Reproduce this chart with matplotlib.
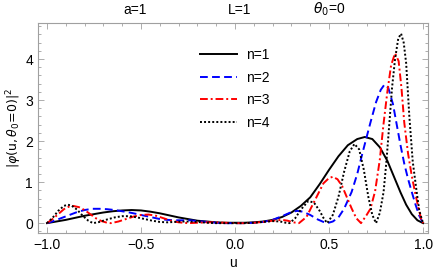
import matplotlib
matplotlib.use("Agg")
import matplotlib.pyplot as plt
from matplotlib.ticker import MultipleLocator

# values
n1_u = [-1.0, -0.95, -0.9, -0.85, -0.8, -0.75, -0.7, -0.65, -0.6, -0.55,
        -0.5, -0.45, -0.4, -0.35, -0.3, -0.25, -0.2, -0.15, -0.1, -0.05,
        0.0, 0.05, 0.1, 0.15, 0.2, 0.25, 0.3, 0.35, 0.4, 0.45,
        0.5, 0.55, 0.6, 0.65, 0.69, 0.73, 0.77, 0.81, 0.85, 0.88,
        0.91, 0.94, 0.97, 1.0]
n1_v = [0, 0.04, 0.08, 0.13, 0.18, 0.22, 0.26, 0.29, 0.31, 0.32,
        0.31, 0.28, 0.24, 0.19, 0.14, 0.1, 0.06, 0.04, 0.02, 0.01,
        0.01, 0.01, 0.02, 0.04, 0.08, 0.15, 0.26, 0.42, 0.63, 0.95,
        1.3, 1.63, 1.9, 2.05, 2.1, 2.05, 1.85, 1.52, 1.08, 0.75,
        0.45, 0.22, 0.07, 0]

n2_u = [-1.0, -0.96, -0.92, -0.88, -0.84, -0.8, -0.76, -0.72, -0.68, -0.64,
        -0.6, -0.55, -0.5, -0.45, -0.4, -0.36, -0.32, -0.28, -0.24, -0.2,
        -0.15, -0.1, -0.05, 0.0, 0.05, 0.1, 0.15, 0.2, 0.25, 0.3,
        0.33, 0.36, 0.4, 0.44, 0.47, 0.49, 0.52, 0.55, 0.58, 0.62,
        0.65, 0.68, 0.72, 0.75, 0.775, 0.795, 0.815, 0.84, 0.86, 0.88,
        0.9, 0.92, 0.94, 0.96, 0.98, 1.0]
n2_v = [0, 0.06, 0.13, 0.2, 0.27, 0.32, 0.35, 0.35, 0.34, 0.32,
        0.29, 0.25, 0.2, 0.15, 0.1, 0.08, 0.07, 0.07, 0.07, 0.05,
        0.03, 0.01, 0, 0, 0, 0.01, 0.03, 0.08, 0.17, 0.27,
        0.3, 0.28, 0.2, 0.09, 0.03, 0, 0.04, 0.14, 0.35, 0.76,
        1.2, 1.75, 2.45, 2.95, 3.25, 3.38, 3.3, 2.9, 2.4, 1.9,
        1.45, 1.08, 0.76, 0.45, 0.18, 0]

n3_u = [-1.0, -0.97, -0.94, -0.91, -0.88, -0.86, -0.83, -0.8, -0.77, -0.74,
        -0.71, -0.68, -0.66, -0.62, -0.58, -0.54, -0.5, -0.46, -0.42, -0.38,
        -0.34, -0.3, -0.25, -0.2, -0.15, -0.1, -0.05, 0.0, 0.05, 0.1,
        0.15, 0.2, 0.25, 0.28, 0.31, 0.34, 0.38, 0.425, 0.47, 0.5,
        0.52, 0.545, 0.57, 0.594, 0.62, 0.645, 0.67, 0.7, 0.72, 0.745,
        0.77, 0.789, 0.81, 0.83, 0.851, 0.87, 0.885, 0.9, 0.92, 0.94,
        0.957, 0.975, 0.99, 1.0]
n3_v = [0, 0.1, 0.22, 0.34, 0.41, 0.42, 0.39, 0.32, 0.22, 0.12,
        0.05, 0.01, 0, 0.04, 0.1, 0.16, 0.2, 0.21, 0.18, 0.12,
        0.06, 0.02, 0, 0.01, 0.02, 0.02, 0.01, 0, 0, 0.01,
        0.03, 0.06, 0.08, 0.06, 0.02, 0, 0.15, 0.56, 0.97, 1.1,
        1.13, 1.07, 0.9, 0.64, 0.36, 0.12, 0, 0.2, 0.35, 0.78,
        1.55, 2.39, 3.2, 3.85, 4.14, 3.95, 3.3, 2.45, 1.7, 1.15,
        0.76, 0.38, 0.1, 0]

n4_u = [-1.0, -0.97, -0.94, -0.91, -0.89, -0.87, -0.84, -0.81, -0.78, -0.755,
        -0.72, -0.68, -0.64, -0.6, -0.56, -0.52, -0.48, -0.44, -0.4, -0.36,
        -0.32, -0.28, -0.24, -0.2, -0.15, -0.1, 0.0, 0.05, 0.1, 0.15,
        0.2, 0.24, 0.27, 0.29, 0.32, 0.35, 0.39, 0.42, 0.45, 0.47,
        0.49, 0.52, 0.55, 0.58, 0.61, 0.635, 0.66, 0.685, 0.709, 0.73,
        0.75, 0.77, 0.79, 0.805, 0.82, 0.835, 0.851, 0.868, 0.883, 0.897,
        0.91, 0.927, 0.945, 0.966, 0.98, 1.0]
n4_v = [0, 0.13, 0.3, 0.42, 0.45, 0.43, 0.33, 0.18, 0.06, 0,
        0.03, 0.09, 0.14, 0.17, 0.17, 0.14, 0.1, 0.06, 0.03, 0.02,
        0.03, 0.04, 0.04, 0.03, 0.01, 0, 0, 0, 0.01, 0.03,
        0.05, 0.04, 0.01, 0, 0.12, 0.33, 0.54, 0.5, 0.3, 0.13,
        0, 0.2, 0.64, 1.25, 1.75, 1.93, 1.8, 1.3, 0.64, 0.2,
        0, 0.25, 0.76, 1.5, 2.39, 3.3, 4.0, 4.5, 4.62, 4.4,
        3.9, 2.6, 1.5, 0.76, 0.3, 0]

labels = ["n=1", "n=2", "n=3", "n=4"]
params = ["a=1", "L=1", r"$\theta_0$=0"]

plt.rcParams["font.family"] = ["Liberation Sans", "DejaVu Sans"]
plt.rcParams["mathtext.fontset"] = "dejavusans"

fig = plt.figure(figsize=(4.36, 2.73), dpi=100)
ax = fig.add_axes([0.087, 0.1465, 0.895, 0.7695])

ax.plot(n1_u, n1_v, color="black", lw=1.4, ls="-", label=labels[0])
ax.plot(n2_u, n2_v, color="#0000ff", lw=1.4, ls=(0, (4, 2.2)), label=labels[1])
ax.plot(n3_u, n3_v, color="#ff0000", lw=1.4, ls=(0, (4, 1.5, 1, 1.5)), label=labels[2])
ax.plot(n4_u, n4_v, color="black", lw=1.4, ls=(0, (1, 1.1)), label=labels[3])

ax.set_xlim(-1.048, 1.027)
ax.set_ylim(-0.24, 4.88)

ax.xaxis.set_major_locator(MultipleLocator(0.5))
ax.xaxis.set_minor_locator(MultipleLocator(0.1))
ax.yaxis.set_major_locator(MultipleLocator(1))
ax.yaxis.set_minor_locator(MultipleLocator(0.2))
ax.xaxis.set_major_formatter(plt.FuncFormatter(lambda v, p: f"{v:.1f}".replace("-", "\u2212")))
ax.yaxis.set_major_formatter(plt.FuncFormatter(lambda v, p: f"{v:.0f}"))

for s in ax.spines.values():
    s.set_color("#a0a0a0")
    s.set_linewidth(0.8)
ax.tick_params(which="both", direction="in", top=True, right=True,
               color="#a0a0a0", labelsize=10, width=0.6)
ax.tick_params(which="major", length=4)
ax.tick_params(which="minor", length=2)

ax.set_xlabel("u", fontsize=10, labelpad=3)
ax.set_ylabel(r"$|\varphi(\mathrm{u},\theta_0\!=\!0)|^2$", fontsize=9, labelpad=1)

for txt, xf in zip(params, [0.31, 0.549, 0.755]):
    fig.text(xf, 0.965, txt, ha="center", va="center", fontsize=10)

ax.legend(loc="upper left", bbox_to_anchor=(0.383, 0.94), frameon=False,
          fontsize=10, handlelength=2.7, labelspacing=0.62, handletextpad=0.65)

fig.savefig("out.png", dpi=100)
